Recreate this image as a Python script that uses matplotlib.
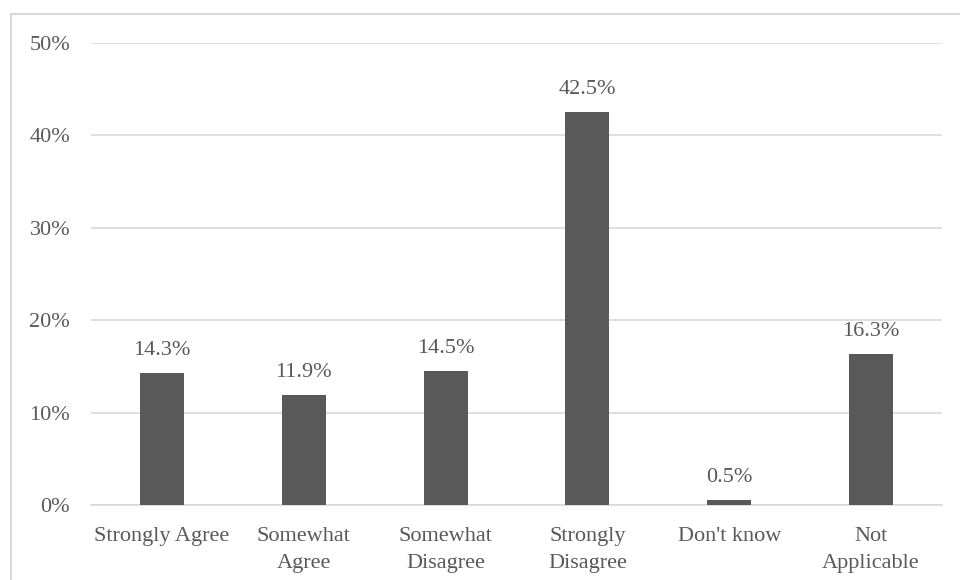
import matplotlib.pyplot as plt
from matplotlib.lines import Line2D
from matplotlib.ticker import FuncFormatter

categories = ['Strongly Agree', 'Somewhat\nAgree', 'Somewhat\nDisagree',
              'Strongly\nDisagree', "Don't know", 'Not\nApplicable']
values = [14.3, 11.9, 14.5, 42.5, 0.5, 16.3]
yticks = [0, 10, 20, 30, 40, 50]

TXT = '#595959'
GRID = '#d9d9d9'
BAR = '#595959'
FONT = 'Liberation Serif'
FS = 16

plt.rcParams['font.family'] = [FONT, 'DejaVu Serif']

fig = plt.figure(figsize=(9.6, 5.8), dpi=100)
ax = fig.add_axes([91 / 960, 1 - 505 / 580, (942 - 91) / 960, (505 - 43) / 580])

x = list(range(len(categories)))
bars = ax.bar(x, values, width=0.31, color=BAR, zorder=3)
for b, v in zip(bars, values):
    ax.text(b.get_x() + b.get_width() / 2, v + 1.4, '%.1f%%' % v,
            ha='center', va='bottom', fontsize=FS, color=TXT)

ax.set_xlim(-0.5, len(categories) - 0.5)
ax.set_ylim(0, 50)
ax.set_yticks(yticks)
ax.yaxis.set_major_formatter(FuncFormatter(lambda v, p: '%d%%' % v))
ax.set_xticks(x)
ax.set_xticklabels(categories, linespacing=1.57)
ax.grid(axis='y', color=GRID, linewidth=1.2, zorder=0)
ax.tick_params(axis='both', length=0, labelsize=FS, colors=TXT)
ax.tick_params(axis='y', pad=15)
ax.tick_params(axis='x', pad=16)
for s in ['top', 'right', 'left']:
    ax.spines[s].set_visible(False)
ax.spines['bottom'].set_color(GRID)
ax.spines['bottom'].set_linewidth(1.2)

# chart border (top and left edges visible)
fig.add_artist(Line2D([11 / 960, 1], [1 - 14 / 580, 1 - 14 / 580], color=GRID, linewidth=1.5))
fig.add_artist(Line2D([11 / 960, 11 / 960], [0, 1 - 14 / 580], color=GRID, linewidth=1.5))

plt.savefig('out.png', dpi=100)
